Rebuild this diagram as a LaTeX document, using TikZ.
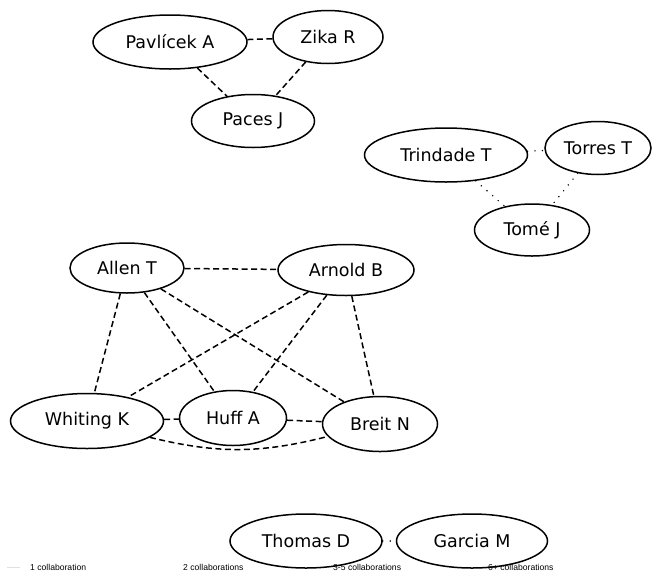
\documentclass[tikz,border=0pt]{standalone}
\usepackage{fontspec}
\setmainfont{DejaVu Sans}
\newfontfamily\legendfont{Liberation Sans}
\usetikzlibrary{shapes.geometric}
\begin{document}
\begin{tikzpicture}[x=1pt,y=-1pt,
  author/.style={ellipse, draw, line width=1.5pt, inner sep=0pt,
    font=\fontsize{17.5}{19}\selectfont},
  dashlink/.style={line width=1.5pt, dash pattern=on 6pt off 3.5pt},
  dotlink/.style={line width=1.6pt, line cap=round, dash pattern=on 0pt off 7.5pt},
  legendtext/.style={font=\legendfont\fontsize{8.6}{9}\selectfont, anchor=west, inner sep=0pt}]
\useasboundingbox (0,0) rectangle (666,576);

% first cluster
\node[author, minimum width=154pt, minimum height=54pt] (pa) at (170,42) {Pavlícek A};
\node[author, minimum width=110pt, minimum height=53pt] (zr) at (328,37) {Zika R};
\node[author, minimum width=123pt, minimum height=53pt] (pj) at (253,121) {Paces J};
\draw[dashlink] (pa) -- (zr);
\draw[dashlink] (pa) -- (pj);
\draw[dashlink] (zr) -- (pj);

% second cluster
\node[author, minimum width=163pt, minimum height=54pt] (tt) at (446,155) {Trindade T};
\node[author, minimum width=106pt, minimum height=53pt] (to) at (598,148) {Torres T};
\node[author, minimum width=115pt, minimum height=52pt] (tj) at (532,230) {Tomé J};
\draw[dotlink] (tt) -- (to);
\draw[dotlink] (tt) -- (tj);
\draw[dotlink] (to) -- (tj);

% third cluster
\node[author, minimum width=114pt, minimum height=50pt] (at) at (127,268) {Allen T};
\node[author, minimum width=136pt, minimum height=51pt] (ab) at (346,270) {Arnold B};
\node[author, minimum width=153pt, minimum height=55pt] (wk) at (87,421) {Whiting K};
\node[author, minimum width=107pt, minimum height=55pt] (ha) at (233,418) {Huff A};
\node[author, minimum width=115pt, minimum height=55pt] (bn) at (380,424) {Breit N};
\draw[dashlink] (at) -- (ab);
\draw[dashlink] (at) -- (wk);
\draw[dashlink] (at) -- (ha);
\draw[dashlink] (at) -- (bn);
\draw[dashlink] (ab) -- (wk);
\draw[dashlink] (ab) -- (ha);
\draw[dashlink] (ab) -- (bn);
\draw[dashlink] (wk) -- (ha);
\draw[dashlink] (ha) -- (bn);
\draw[dashlink] (wk) to[bend right=14] (bn);

% fourth cluster
\node[author, minimum width=152pt, minimum height=54pt] (td) at (306,541) {Thomas D};
\node[author, minimum width=151pt, minimum height=54pt] (gm) at (472,541) {Garcia M};
\draw[dotlink] (td) -- (gm);

% legend
\coordinate (lg1) at (7,567);
\coordinate (lg2) at (20,567);
\draw[black!12, line width=1pt] (lg1) -- (lg2);
\node[legendtext] (l1) at (30,567) {1 collaboration};
\node[legendtext] (l2) at (183,567) {2 collaborations};
\node[legendtext] (l3) at (333,567) {3-5 collaborations};
\node[legendtext] (l4) at (488,567) {6+ collaborations};
\end{tikzpicture}
\end{document}
